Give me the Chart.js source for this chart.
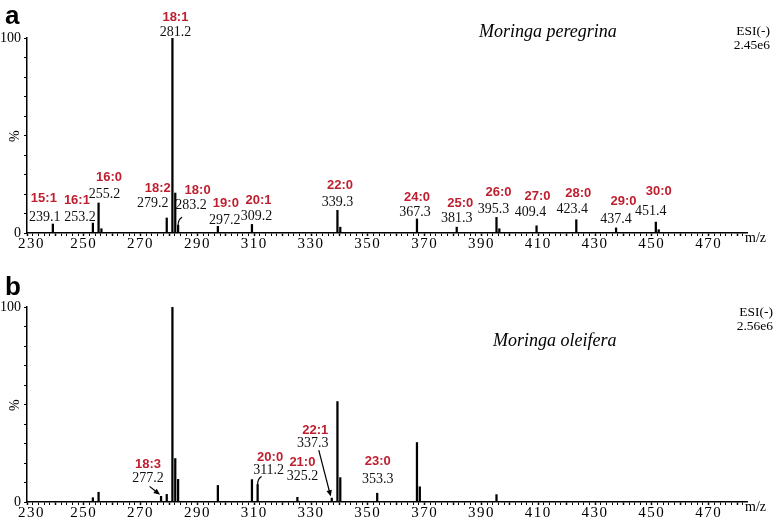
<!DOCTYPE html>
<html>
<head>
<meta charset="utf-8">
<script src="https://cdn.jsdelivr.net/npm/chart.js@4.4.0/dist/chart.umd.min.js"></script>
<style>
  html, body { margin: 0; padding: 0; background: #fff; }
  canvas { display: block; }
</style>
</head>
<body>
<canvas id="specA" width="777" height="260"></canvas>
<canvas id="specB" width="777" height="260"></canvas>
<script>
// Panel a - Moringa peregrina (m/z, relative intensity %)
const mzA = [239.1, 253.2, 255.2, 256.2, 279.2, 281.2, 282.2, 283.2, 297.2, 309.2, 339.3, 340.3, 367.3, 381.3, 395.3, 396.3, 409.4, 423.4, 437.4, 451.4, 452.4];
const intA = [4.6, 5.1, 15.4, 2.2, 7.7, 100, 20.5, 4.0, 3.4, 4.4, 11.6, 3.0, 7.2, 3.0, 8.0, 2.2, 3.7, 6.8, 2.6, 5.6, 1.7];
const labelMzA = [239.1, 253.2, 255.2, 279.2, 281.2, 283.2, 297.2, 309.2, 339.3, 367.3, 381.3, 395.3, 409.4, 423.4, 437.4, 451.4];
const labelNameA = ['15:1', '16:1', '16:0', '18:2', '18:1', '18:0', '19:0', '20:1', '22:0', '24:0', '25:0', '26:0', '27:0', '28:0', '29:0', '30:0'];
const hookMzA = [283.2];

// Panel b - Moringa oleifera
const mzB = [253.2, 255.2, 277.2, 279.2, 281.2, 282.2, 283.2, 297.2, 309.2, 311.2, 325.2, 337.3, 339.3, 340.3, 353.3, 367.3, 368.3, 395.3];
const intB = [2.2, 5.0, 2.9, 3.9, 100, 22.3, 11.6, 8.5, 11.5, 9.0, 2.4, 2.0, 51.5, 12.5, 4.5, 30.5, 7.8, 3.8];
const labelMzB = [277.2, 311.2, 325.2, 337.3, 353.3];
const labelNameB = ['18:3', '20:0', '21:0', '22:1', '23:0'];
const hookMzB = [311.2];
const arrowMzB = [277.2, 337.3];

// axes
const xMin = 230, xMax = 483.5, xMinorStep = 2;
const xTickLabels = [230, 250, 270, 290, 310, 330, 350, 370, 390, 410, 430, 450, 470];
const yTickLabels = [0, 100];

// label placement (px offsets from the peak top: number dx, dy, then name dx, dy from number)
const placeA = [
  [-8, -7, -1, -19], [-13, -6, -3, -17], [6, -9, 4.5, -17], [-14, -15, 5, -15],
  [3, -6, 0, -15], [13, -20, 6.5, -15], [7, -6.5, 1, -16], [4.5, -8.5, 2, -15],
  [0, -8.5, 2.5, -16], [-2, -6.5, 2, -15], [0, -9, 3.5, -15], [-3, -8.5, 5, -16],
  [-6, -13, 7, -16], [-4, -10, 6, -16], [0, -9, 7.5, -17.5], [-5, -11, 8, -19.5]
];
const placeB = [
  [-13, -18, 0, -14], [11, -14, 1.5, -13], [5, -21, 0, -14], [-19, -54.5, 2.5, -13.5], [0.5, -14, 0, -18]
];
// arrow start offsets from the peak top
const arrowFromB = [[-11.5, -10], [-13, -48]];

const RED = '#bf1e2e';
const SERIF = '"Liberation Serif", "Times New Roman", serif';
const SANS = '"Liberation Sans", Arial, sans-serif';

function peakTop(chart, mzs, ints, m) {
  const i = mzs.indexOf(m);
  return {
    x: chart.scales.x.getPixelForValue(m),
    y: chart.scales.y.getPixelForValue(ints[i])
  };
}

function annotPlugin(cfg) {
  return {
    id: 'annot',
    beforeDraw(chart) {
      // the x tick labels in the figure are widely spaced
      chart.ctx.letterSpacing = '1.5px';
    },
    beforeDatasetsDraw(chart) {
      chart.ctx.letterSpacing = '0px';
    },
    afterDatasetsDraw(chart) {
      const ctx = chart.ctx;
      const area = chart.chartArea;
      ctx.save();
      ctx.letterSpacing = '0px';
      ctx.textAlign = 'center';
      ctx.textBaseline = 'middle';
      cfg.labelMz.forEach((m, i) => {
        const p = peakTop(chart, cfg.mz, cfg.int, m);
        const o = cfg.place[i];
        const nx = p.x + o[0], ny = p.y + o[1];
        ctx.fillStyle = '#111';
        ctx.font = '14px ' + SERIF;
        ctx.fillText(m.toFixed(1), nx, ny);
        ctx.fillStyle = RED;
        ctx.font = 'bold 13px ' + SANS;
        ctx.fillText(cfg.names[i], nx + o[2], ny + o[3]);
      });
      // little hooks linking a label to its peak
      ctx.strokeStyle = '#000';
      ctx.lineWidth = 1.2;
      cfg.hooks.forEach(m => {
        const p = peakTop(chart, cfg.mz, cfg.int, m);
        ctx.beginPath();
        ctx.moveTo(p.x, p.y);
        ctx.quadraticCurveTo(p.x, p.y - 6, p.x + 4, p.y - 8);
        ctx.stroke();
      });
      // arrows
      (cfg.arrows || []).forEach((m, i) => {
        const p = peakTop(chart, cfg.mz, cfg.int, m);
        const f = cfg.arrowFrom[i];
        const x0 = p.x + f[0], y0 = p.y + f[1];
        const x1 = p.x - 1, y1 = p.y - 1.5;
        const ang = Math.atan2(y1 - y0, x1 - x0);
        ctx.beginPath();
        ctx.moveTo(x0, y0);
        ctx.lineTo(x1 - 4 * Math.cos(ang), y1 - 4 * Math.sin(ang));
        ctx.stroke();
        ctx.beginPath();
        ctx.moveTo(x1, y1);
        ctx.lineTo(x1 - 7 * Math.cos(ang - 0.4), y1 - 7 * Math.sin(ang - 0.4));
        ctx.lineTo(x1 - 7 * Math.cos(ang + 0.4), y1 - 7 * Math.sin(ang + 0.4));
        ctx.closePath();
        ctx.fillStyle = '#000';
        ctx.fill();
      });
      // panel texts
      ctx.fillStyle = '#000';
      ctx.textAlign = 'left';
      ctx.textBaseline = 'alphabetic';
      ctx.font = 'bold 26px ' + SANS;
      ctx.fillText(cfg.panel, 5, cfg.panelY);
      ctx.textBaseline = 'middle';
      ctx.font = 'italic 18px ' + SERIF;
      ctx.fillText(cfg.species, cfg.speciesX, cfg.speciesY);
      ctx.textAlign = 'right';
      ctx.font = '13.5px ' + SERIF;
      ctx.fillText('ESI(-)', cfg.esiX, cfg.esiY);
      ctx.fillText(cfg.scaleText, cfg.esiX, cfg.esiY + 14);
      ctx.textAlign = 'left';
      ctx.font = '14px ' + SERIF;
      ctx.fillText('m/z', area.right - 2, area.bottom + 5);
      ctx.restore();
      ctx.letterSpacing = '0px';
    }
  };
}

function makeChart(id, mzs, ints, cfg) {
  return new Chart(document.getElementById(id), {
    type: 'bar',
    data: {
      datasets: [{
        data: mzs.map((m, i) => ({ x: m, y: ints[i] })),
        backgroundColor: '#000',
        borderWidth: 0,
        barThickness: 1.6
      }]
    },
    options: {
      responsive: false,
      animation: false,
      events: [],
      layout: { padding: { top: cfg.top, right: 30, left: 0, bottom: 0 } },
      plugins: { legend: { display: false }, tooltip: { enabled: false } },
      scales: {
        x: {
          type: 'linear',
          min: xMin,
          max: xMax,
          offset: false,
          afterFit: s => { s.height = cfg.xHeight; },
          afterBuildTicks: s => {
            const t = [];
            for (let v = xMin; v <= xMax; v += xMinorStep) t.push({ value: v });
            s.ticks = t;
          },
          grid: { offset: false, drawOnChartArea: false, drawTicks: true, tickLength: 3, tickColor: '#000',
                  tickWidth: c => (c.tick && (c.tick.value - xMin) % 10 === 0 ? 1.5 : 1) },
          border: { display: true, color: '#000', width: 1.5 },
          ticks: {
            autoSkip: false,
            maxRotation: 0,
            padding: -1,
            color: '#000',
            font: { family: SERIF, size: 15 },
            // first label is nudged right, clear of the y axis "0"
            callback: v => (xTickLabels.includes(v) ? (v === xMin ? '\u2002' + v : String(v)) : '')
          }
        },
        y: {
          min: 0,
          max: 100,
          afterFit: s => { s.width = 27; },
          grid: { drawOnChartArea: false, drawTicks: true, tickLength: 3, tickColor: '#000' },
          border: { display: true, color: '#000', width: 1.5 },
          ticks: {
            z: 1,
            stepSize: 10,
            autoSkip: false,
            padding: 3,
            color: '#000',
            font: { family: SERIF, size: 14 },
            callback: v => (yTickLabels.includes(v) ? String(v) : '')
          },
          title: { display: true, text: '%', color: '#000', font: { family: SERIF, size: 14 }, padding: { top: 7, bottom: 0 } }
        }
      }
    },
    plugins: [annotPlugin(cfg)]
  });
}

makeChart('specA', mzA, intA, {
  top: 38, xHeight: 27,
  mz: mzA, int: intA, labelMz: labelMzA, names: labelNameA, place: placeA,
  hooks: hookMzA, arrows: [], arrowFrom: [],
  panel: 'a', panelY: 24,
  species: 'Moringa peregrina', speciesX: 479, speciesY: 32,
  esiX: 770, esiY: 31.5, scaleText: '2.45e6'
});

makeChart('specB', mzB, intB, {
  top: 47, xHeight: 18,
  mz: mzB, int: intB, labelMz: labelMzB, names: labelNameB, place: placeB,
  hooks: hookMzB, arrows: arrowMzB, arrowFrom: arrowFromB,
  panel: 'b', panelY: 35,
  species: 'Moringa oleifera', speciesX: 493, speciesY: 81,
  esiX: 773, esiY: 52, scaleText: '2.56e6'
});
</script>
</body>
</html>
